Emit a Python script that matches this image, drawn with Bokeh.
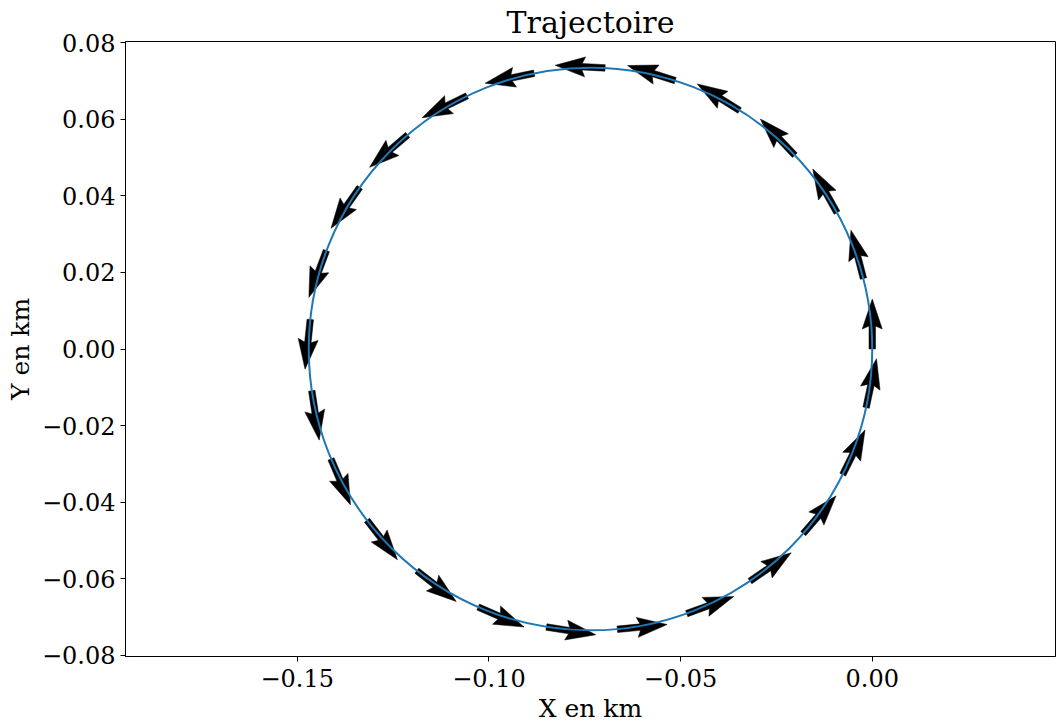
import numpy as np
from bokeh.plotting import figure
from bokeh.models import Range1d, FixedTicker, CustomJSTickFormatter
from bokeh.embed import file_html
from bokeh.resources import INLINE

# ---- data ----
center_x = -0.0735
center_y = 0.0
radius = 0.0735

arrow_x = [0.0000, -0.0023, -0.0092, -0.0202, -0.0346, -0.0514, -0.0697, -0.0882,
           -0.1057, -0.1212, -0.1337, -0.1424, -0.1466, -0.1462, -0.1412, -0.1318,
           -0.1188, -0.1028, -0.0850, -0.0665, -0.0484, -0.0319, -0.0180, -0.0077, -0.0016]
arrow_y = [0.0000, 0.0184, 0.0356, 0.0506, 0.0623, 0.0701, 0.0734, 0.0720,
           0.0661, 0.0559, 0.0422, 0.0257, 0.0077, -0.0109, -0.0287, -0.0447,
           -0.0579, -0.0674, -0.0726, -0.0732, -0.0691, -0.0606, -0.0482, -0.0328, -0.0153]
arrow_u = [0.000, -0.250, -0.485, -0.688, -0.848, -0.954, -0.999, -0.980,
           -0.899, -0.760, -0.574, -0.350, -0.105, 0.148, 0.391, 0.609,
           0.788, 0.917, 0.988, 0.995, 0.940, 0.824, 0.656, 0.446, 0.208]
arrow_v = [1.000, 0.968, 0.875, 0.725, 0.530, 0.301, 0.052, -0.199,
           -0.438, -0.649, -0.819, -0.937, -0.995, -0.989, -0.921, -0.793,
           -0.616, -0.399, -0.156, 0.096, 0.342, 0.566, 0.755, 0.895, 0.978]

x_ticks = [-0.15, -0.10, -0.05, 0.00]
y_ticks = [-0.08, -0.06, -0.04, -0.02, 0.00, 0.02, 0.04, 0.06, 0.08]

title_text = "Trajectoire"
x_label = "X en km"
y_label = "Y en km"

# ---- layout / style ----
X_START, X_END = -0.1948, 0.0478
Y_START, Y_END = -0.0803, 0.0803
FRAME_W, FRAME_H = 930, 615
PX_PER_UNIT = FRAME_W / (X_END - X_START)

# arrow shape in screen pixels (matplotlib-quiver-like)
L, W, HW, HL, HAL = 50.0, 6.5, 20.0, 30.0, 27.0
shape_a = [0, L - HAL, L - HL, L, L - HL, L - HAL, 0]
shape_b = [-W / 2, -W / 2, -HW / 2, 0, HW / 2, W / 2, W / 2]

xs, ys = [], []
for x0, y0, u, v in zip(arrow_x, arrow_y, arrow_u, arrow_v):
    n = np.hypot(u, v)
    du, dv = u / n, v / n
    px, py = -dv, du
    xs.append([x0 + (a * du + b * px) / PX_PER_UNIT for a, b in zip(shape_a, shape_b)])
    ys.append([y0 + (a * dv + b * py) / PX_PER_UNIT for a, b in zip(shape_a, shape_b)])

FONT = "DejaVu Serif"

p = figure(frame_width=FRAME_W, frame_height=FRAME_H, output_backend="svg", toolbar_location=None,
           x_range=Range1d(X_START, X_END), y_range=Range1d(Y_START, Y_END),
           min_border_left=125, min_border_right=1, min_border_top=41, min_border_bottom=60,
           title=title_text)

p.patches(xs, ys, fill_color="black", line_color="black", line_width=0.5)
p.ellipse(x=[center_x], y=[center_y], width=2 * radius, height=2 * radius,
          fill_color=None, line_color="#1f77b4", line_width=2)

p.title.text_font = FONT
p.title.text_font_size = "30px"
p.title.text_font_style = "normal"
p.title.align = "center"
p.title.text_color = "black"
p.title.standoff = 4

p.xgrid.visible = False
p.ygrid.visible = False
p.outline_line_color = "black"
p.outline_line_width = 1
p.background_fill_color = "white"
p.border_fill_color = "white"

fmt_code = "const t = Math.abs(tick) < 1e-9 ? 0 : tick; return t.toFixed(2).replace('-', '\u2212');"
for ax, ticks, lab in ((p.xaxis[0], x_ticks, x_label), (p.yaxis[0], y_ticks, y_label)):
    ax.ticker = FixedTicker(ticks=ticks)
    ax.formatter = CustomJSTickFormatter(code=fmt_code)
    ax.axis_label = lab
    ax.axis_label_text_font = FONT
    ax.axis_label_text_font_size = "25px"
    ax.axis_label_text_font_style = "normal"
    ax.axis_label_text_color = "black"
    ax.major_label_text_font = FONT
    ax.major_label_text_font_size = "24px"
    ax.major_label_text_color = "black"
    ax.major_tick_in = 0
    ax.major_tick_out = 5
    ax.minor_tick_in = 0
    ax.minor_tick_out = 0
    ax.major_label_standoff = 7
    ax.axis_label_standoff = 4
    ax.axis_line_color = "black"
    ax.major_tick_line_color = "black"

p.yaxis[0].major_label_standoff = 5

open("out.html", "w").write(file_html(p, INLINE))
